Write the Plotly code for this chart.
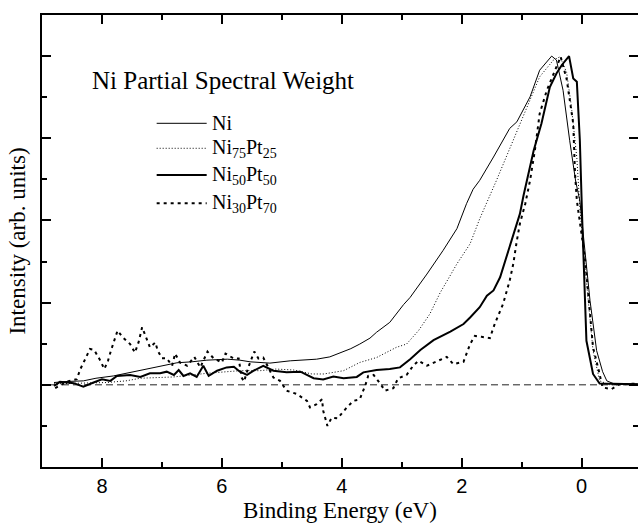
import plotly.graph_objects as go

# Ni partial spectral weight
ni_x = [8.8, 8.6, 8.31, 8.1, 7.81, 7.6, 7.36, 7.08, 6.75, 6.5, 6.25, 5.91, 5.7, 5.53,
        5.36, 5.2, 4.86, 4.6, 4.42, 4.2, 4.03, 3.85, 3.7, 3.53, 3.42, 3.2, 2.97, 2.86,
        2.58, 2.31, 2.08, 1.92, 1.81, 1.7, 1.47, 1.2, 1.08, 0.86, 0.7, 0.6, 0.5, 0.42,
        0.31, 0.2, 0.1, 0.03, -0.06, -0.14, -0.25, -0.35, -0.42, -0.58, -0.7, -0.94]
ni_y = [0.007, 0.01, 0.012, 0.02, 0.027, 0.035, 0.043, 0.053, 0.067, 0.07, 0.075, 0.078,
        0.075, 0.07, 0.067, 0.066, 0.073, 0.075, 0.078, 0.085, 0.098, 0.11, 0.124, 0.142,
        0.16, 0.19, 0.244, 0.266, 0.337, 0.409, 0.475, 0.551, 0.595, 0.622, 0.693, 0.78,
        0.8, 0.876, 0.957, 0.98, 1.0, 0.988, 0.896, 0.744, 0.62, 0.56, 0.41, 0.256, 0.104,
        0.04, 0.012, 0.0, 0.003, 0.002]

ni75_x = [8.8, 8.5, 8.2, 7.92, 7.6, 7.36, 6.8, 6.5, 6.25, 5.7, 5.36, 5.1, 4.8, 4.5, 4.3,
          3.97, 3.7, 3.42, 3.09, 2.92, 2.72, 2.53, 2.36, 2.2, 2.08, 1.86, 1.7, 1.42, 1.14,
          0.92, 0.7, 0.47, 0.36, 0.25, 0.17, 0.08, 0.03, -0.03, -0.11, -0.19, -0.3, -0.47,
          -0.7, -0.94]
ni75_y = [0.003, 0.005, 0.006, 0.007, 0.012, 0.02, 0.024, 0.03, 0.035, 0.043, 0.043, 0.048,
          0.045, 0.033, 0.033, 0.043, 0.068, 0.083, 0.114, 0.124, 0.165, 0.216, 0.28, 0.33,
          0.368, 0.429, 0.505, 0.622, 0.744, 0.845, 0.937, 0.988, 0.998, 0.95, 0.845, 0.69,
          0.54, 0.41, 0.256, 0.104, 0.012, 0.0, 0.002, 0.002]

ni50_x = [8.8, 8.7, 8.47, 8.31, 8.14, 8.0, 7.86, 7.75, 7.53, 7.36, 7.2, 7.03, 6.92, 6.8,
          6.72, 6.64, 6.53, 6.42, 6.31, 6.22, 6.08, 5.92, 5.8, 5.7, 5.58, 5.47, 5.31, 5.14,
          4.92, 4.69, 4.47, 4.31, 4.14, 3.97, 3.75, 3.64, 3.42, 3.2, 3.03, 2.86, 2.69, 2.47,
          2.19, 1.97, 1.86, 1.7, 1.58, 1.47, 1.36, 1.2, 1.03, 0.97, 0.8, 0.67, 0.53, 0.42,
          0.33, 0.21, 0.14, 0.08, 0.03, -0.01, -0.03, -0.08, -0.19, -0.3, -0.5, -0.7, -0.94]
ni50_y = [-0.003, 0.009, 0.005, -0.006, 0.007, 0.017, 0.012, 0.027, 0.03, 0.024, 0.035,
          0.035, 0.04, 0.03, 0.045, 0.027, 0.035, 0.024, 0.058, 0.027, 0.043, 0.053, 0.055,
          0.04, 0.03, 0.043, 0.058, 0.043, 0.038, 0.04, 0.02, 0.016, 0.025, 0.02, 0.024,
          0.038, 0.045, 0.048, 0.053, 0.078, 0.106, 0.136, 0.162, 0.185, 0.205, 0.236,
          0.271, 0.287, 0.327, 0.418, 0.52, 0.575, 0.713, 0.795, 0.906, 0.947, 0.973, 1.0,
          0.932, 0.922, 0.744, 0.5, 0.41, 0.134, 0.033, 0.004, 0.003, 0.003, 0.002]

ni30_x = [8.78, 8.58, 8.42, 8.36, 8.28, 8.2, 8.13, 8.04, 7.96, 7.9, 7.85, 7.8, 7.74, 7.65,
          7.53, 7.45, 7.39, 7.33, 7.26, 7.2, 7.11, 7.07, 7.0, 6.92, 6.83, 6.78, 6.7, 6.58,
          6.46, 6.36, 6.24, 6.14, 6.0, 5.94, 5.81, 5.72, 5.67, 5.63, 5.56, 5.46, 5.39, 5.31,
          5.14, 5.03, 4.92, 4.75, 4.58, 4.53, 4.42, 4.33, 4.31, 4.24, 4.17, 4.07, 3.94, 3.81,
          3.7, 3.61, 3.56, 3.47, 3.36, 3.28, 3.14, 3.06, 2.92, 2.81, 2.72, 2.58, 2.42, 2.25,
          2.14, 1.97, 1.86, 1.78, 1.67, 1.53, 1.45, 1.31, 1.2, 1.14, 1.08, 1.03, 0.94, 0.86,
          0.78, 0.7, 0.58, 0.47, 0.35, 0.25, 0.14, 0.11, 0.08, -0.06, -0.14, -0.19, -0.28,
          -0.35, -0.5, -0.61, -0.8, -0.94]
ni30_y = [-0.01, 0.01, 0.017, 0.048, 0.078, 0.109, 0.106, 0.078, 0.048, 0.073, 0.104, 0.134,
          0.165, 0.144, 0.124, 0.098, 0.129, 0.175, 0.144, 0.114, 0.129, 0.104, 0.081, 0.081,
          0.058, 0.095, 0.068, 0.058, 0.085, 0.053, 0.101, 0.081, 0.068, 0.095, 0.081, 0.08,
          0.022, 0.01, 0.053, 0.101, 0.08, 0.083, 0.022, 0.012, -0.018, -0.028, -0.049,
          -0.069, -0.059, -0.044, -0.079, -0.125, -0.1, -0.102, -0.074, -0.049, -0.044,
          -0.003, 0.027, 0.03, 0.004, -0.018, -0.01, 0.02, 0.03, 0.058, 0.073, 0.058, 0.071,
          0.085, 0.063, 0.07, 0.124, 0.149, 0.146, 0.142, 0.185, 0.246, 0.317, 0.368, 0.439,
          0.49, 0.551, 0.622, 0.713, 0.825, 0.896, 0.947, 0.998, 0.93, 0.795, 0.642, 0.561,
          0.378, 0.205, 0.114, 0.048, -0.008, -0.013, 0.0, 0.003, 0.003]

baseline_x = [8.85, -0.94]
baseline_y = [0, 0]

series = [
    ("Ni", ni_x, ni_y, 1, "solid"),
    ("Ni<sub>75</sub>Pt<sub>25</sub>", ni75_x, ni75_y, 1, "1px,2px"),
    ("Ni<sub>50</sub>Pt<sub>50</sub>", ni50_x, ni50_y, 2, "solid"),
    ("Ni<sub>30</sub>Pt<sub>70</sub>", ni30_x, ni30_y, 2, "3px,4px"),
]

SERIF = "Liberation Serif, Times New Roman, serif"
SANS = "Liberation Sans, Arial, sans-serif"

fig = go.Figure()

fig.add_trace(go.Scatter(x=baseline_x, y=baseline_y, mode="lines",
                         line=dict(color="#222", width=1, dash="7px,4px"),
                         showlegend=False, hoverinfo="skip"))

for name, xs, ys, w, dash in series:
    fig.add_trace(go.Scatter(x=xs, y=ys, mode="lines", name=name,
                             line=dict(color="black", width=w, dash=dash),
                             showlegend=False))

# hand-made legend (paper coordinates)
legend_rows = [0.7604, 0.7051, 0.646, 0.5834]
for (name, _, _, w, dash), ry in zip(series, legend_rows):
    fig.add_shape(type="line", xref="paper", yref="paper",
                  x0=0.1924, x1=0.2763, y0=ry, y1=ry,
                  line=dict(color="black", width=w, dash=dash))
    fig.add_annotation(xref="paper", yref="paper", x=0.2819, y=ry,
                       xanchor="left", yanchor="middle", text=name, showarrow=False,
                       font=dict(family=SERIF, size=20, color="black"))

fig.add_annotation(xref="paper", yref="paper", x=0.0805, y=0.854,
                   xanchor="left", yanchor="middle", showarrow=False,
                   text="Ni Partial Spectral Weight",
                   font=dict(family=SERIF, size=25, color="black"))

fig.update_xaxes(
    range=[9, -0.94], tickmode="linear", tick0=0, dtick=2,
    ticks="inside", ticklen=9, tickwidth=2, tickcolor="black",
    minor=dict(dtick=1, tick0=0, ticks="inside", ticklen=5, tickwidth=2, tickcolor="black"),
    showline=True, linewidth=2, linecolor="black", mirror="allticks",
    showgrid=False, zeroline=False,
    tickfont=dict(family=SANS, size=20, color="black"),
    title=dict(text="Binding Energy (eV)", standoff=6,
               font=dict(family=SERIF, size=23, color="black")),
)
fig.update_yaxes(
    range=[-0.25, 1.125], tickmode="linear", tick0=0, dtick=0.25,
    ticks="inside", ticklen=9, tickwidth=2, tickcolor="black",
    minor=dict(dtick=0.125, tick0=0, ticks="inside", ticklen=5, tickwidth=2, tickcolor="black"),
    showline=True, linewidth=2, linecolor="black", mirror="allticks",
    showgrid=False, zeroline=False, showticklabels=False,
    title=dict(text="Intensity (arb. units)", standoff=8,
               font=dict(family=SERIF, size=23, color="black")),
)

fig.update_layout(
    width=638, height=527,
    margin=dict(l=42, r=0, t=15, b=60, autoexpand=False),
    plot_bgcolor="white", paper_bgcolor="white",
    showlegend=False,
)

# the page body has a default 8px margin; drop it so the figure sits at the corner
fig.write_html("out.html", config={"displayModeBar": False},
               post_script="document.body.style.margin='0';")
